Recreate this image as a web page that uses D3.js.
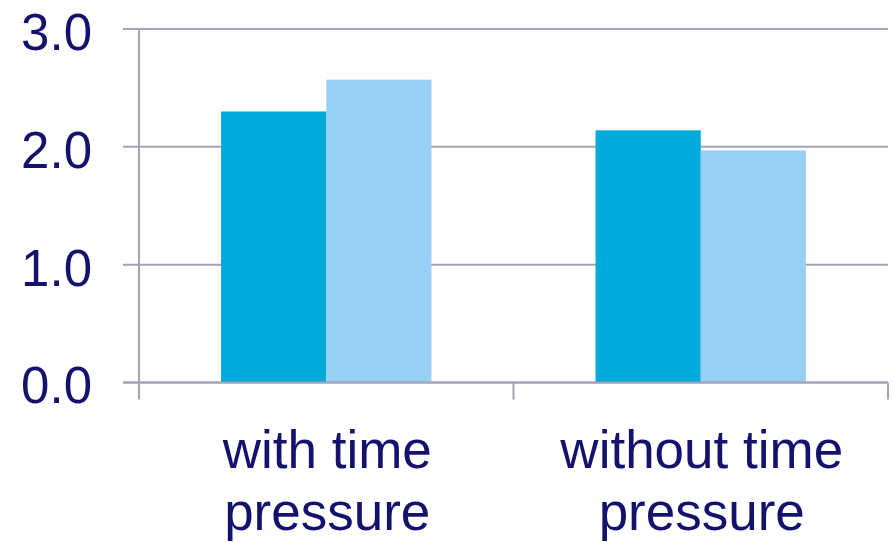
<!DOCTYPE html>
<html>
<head>
<meta charset="utf-8">
<script src="https://cdn.jsdelivr.net/npm/d3@7"></script>
<style>
  html, body { margin: 0; padding: 0; background: #fff; }
  svg { display: block; }
  text { font-family: "Liberation Sans", Arial, sans-serif; fill: #13136e; }
</style>
</head>
<body>
<svg id="chart" width="895" height="542"></svg>
<script>
// Categories (two-line labels) and the two series values
const categories = ["with time pressure", "without time pressure"];
const categoryLines = [["with time", "pressure"], ["without time", "pressure"]];
const seriesNames = ["A", "B"];
const seriesA = [2.30, 2.14];
const seriesB = [2.57, 1.97];
const yTicks = [0, 1, 2, 3];

const colors = ["#00aadb", "#98d0f4"];
const gridColor = "#a2a2b8";

const svg = d3.select("#chart");
const margin = { left: 139, right: 7, top: 29, bottom: 160 };
const W = 895, H = 542;
const x0 = margin.left, x1 = W - margin.right;
const yTop = margin.top, yBot = 382.5;

const x = d3.scaleBand().domain(categories).range([x0, x1]).paddingInner(0).paddingOuter(0);
const xs = d3.scaleBand().domain(seriesNames).range([0, x.bandwidth()]).paddingInner(0).paddingOuter(0.78);
const y = d3.scaleLinear().domain([0, 3]).range([yBot, yTop]);

// Horizontal gridlines with short left ticks
svg.append("g").selectAll("line").data(yTicks).join("line")
  .attr("x1", x0 - 16).attr("x2", x1)
  .attr("y1", d => y(d)).attr("y2", d => y(d))
  .attr("stroke", gridColor).attr("stroke-width", 2);

// Vertical axis line
svg.append("line")
  .attr("x1", x0).attr("x2", x0)
  .attr("y1", yTop).attr("y2", yBot + 17)
  .attr("stroke", gridColor).attr("stroke-width", 2);

// Category separator ticks
svg.append("g").selectAll("line").data(categories.slice(1).concat(["end"])).join("line")
  .attr("x1", (d, i) => i < categories.length - 1 ? x(d) : x1)
  .attr("x2", (d, i) => i < categories.length - 1 ? x(d) : x1)
  .attr("y1", yBot).attr("y2", yBot + 17)
  .attr("stroke", gridColor).attr("stroke-width", 2);

// Bars
const data = categories.map((c, i) => ({ c, vals: [seriesA[i], seriesB[i]] }));
const groups = svg.append("g").selectAll("g").data(data).join("g")
  .attr("transform", d => `translate(${x(d.c)},0)`);
groups.selectAll("rect").data(d => d.vals.map((v, j) => ({ v, s: seriesNames[j], j })))
  .join("rect")
  .attr("x", d => xs(d.s))
  .attr("width", xs.bandwidth())
  .attr("y", d => y(d.v))
  .attr("height", d => y(0) - y(d.v))
  .attr("fill", d => colors[d.j]);

// Redraw baseline over bars
svg.append("line")
  .attr("x1", x0 - 16).attr("x2", x1)
  .attr("y1", yBot).attr("y2", yBot)
  .attr("stroke", gridColor).attr("stroke-width", 2);

// Y tick labels
svg.append("g").selectAll("text").data(yTicks).join("text")
  .attr("x", 92).attr("y", d => y(d))
  .attr("dy", "0.41em")
  .attr("text-anchor", "end")
  .style("font-size", "51px")
  .text(d => d3.format(".1f")(d));

// Category labels
const lab = svg.append("g").selectAll("text").data(categories).join("text")
  .attr("x", d => x(d) + x.bandwidth() / 2)
  .attr("text-anchor", "middle")
  .style("font-size", "53px");
lab.each(function (d, i) {
  d3.select(this).selectAll("tspan").data(categoryLines[i]).join("tspan")
    .attr("x", x(d) + x.bandwidth() / 2 + 1)
    .attr("y", (t, k) => 468 + k * 62)
    .text(t => t);
});
</script>
</body>
</html>
